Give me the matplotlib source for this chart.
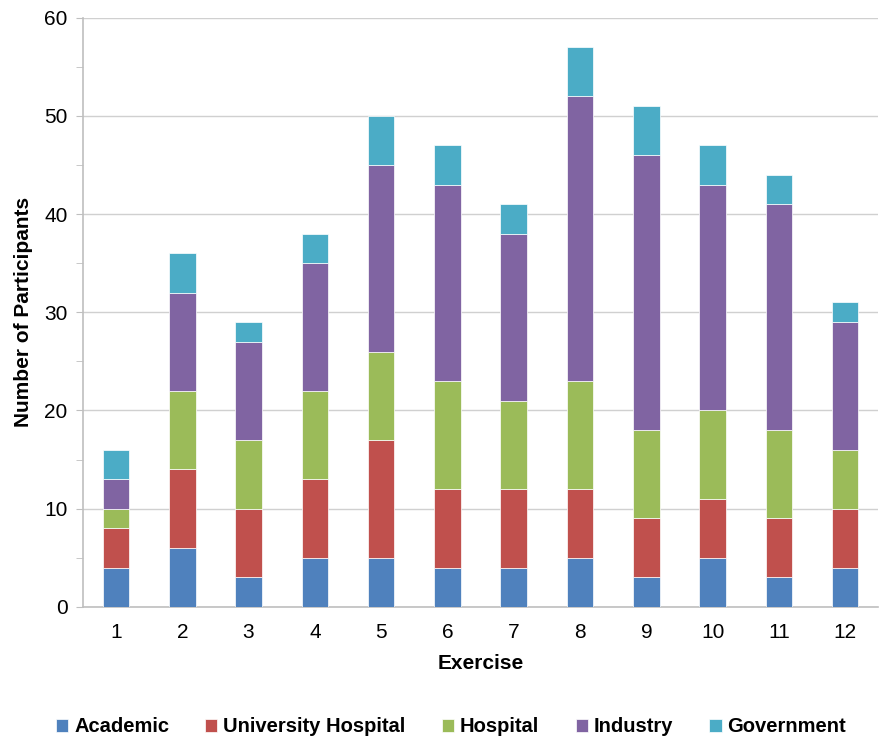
import matplotlib
matplotlib.use("Agg")
import matplotlib.pyplot as plt
import numpy as np

plt.rcParams['font.family'] = ['Liberation Sans', 'DejaVu Sans']

exercises = [str(i) for i in range(1, 13)]
academic = [4, 6, 3, 5, 5, 4, 4, 5, 3, 5, 3, 4]
univ_hospital = [4, 8, 7, 8, 12, 8, 8, 7, 6, 6, 6, 6]
hospital = [2, 8, 7, 9, 9, 11, 9, 11, 9, 9, 9, 6]
industry = [3, 10, 10, 13, 19, 20, 17, 29, 28, 23, 23, 13]
government = [3, 4, 2, 3, 5, 4, 3, 5, 5, 4, 3, 2]

series_names = ["Academic", "University Hospital", "Hospital", "Industry", "Government"]
colors = ["#4F81BD", "#C0504D", "#9BBB59", "#8064A2", "#4BACC6"]

fig = plt.figure(figsize=(8.81, 7.40), dpi=100)
ax = fig.add_axes([0.094, 0.180, 0.903, 0.796])

x = np.arange(1, len(exercises) + 1)
bottom = np.zeros(len(exercises))
for name, vals, c in zip(series_names, [academic, univ_hospital, hospital, industry, government], colors):
    ax.bar(x, vals, 0.4, bottom=bottom, color=c, label=name, edgecolor='white', linewidth=0.5, zorder=3)
    bottom += np.array(vals)

ax.set_xlim(0.5, 12.5)
ax.set_ylim(0, 60)
ax.set_yticks(range(0, 61, 10))
ax.set_yticks(range(5, 60, 10), minor=True)
ax.set_xticks(x)
ax.set_xticklabels(exercises)
ax.grid(axis='y', color='#D0D0D0', linewidth=1, zorder=0)
for s in ['top', 'right']:
    ax.spines[s].set_visible(False)
for s in ['left', 'bottom']:
    ax.spines[s].set_color('#BFBFBF')
    ax.spines[s].set_linewidth(1.2)
ax.tick_params(axis='y', which='both', length=5, color='#BFBFBF', labelsize=15, pad=6)
ax.tick_params(axis='x', length=0, labelsize=15, pad=12)
ax.set_ylabel("Number of Participants", fontsize=15, fontweight='bold', labelpad=8)
ax.set_xlabel("Exercise", fontsize=15, fontweight='bold', labelpad=8)

fig.legend(loc='center', bbox_to_anchor=(0.512, 0.0176), ncol=5, frameon=False,
           prop={'weight': 'bold', 'size': 14.5}, handlelength=0.6, handleheight=0.6,
           handletextpad=0.3, columnspacing=1.8, borderpad=0)

fig.savefig("out.png", dpi=100)
